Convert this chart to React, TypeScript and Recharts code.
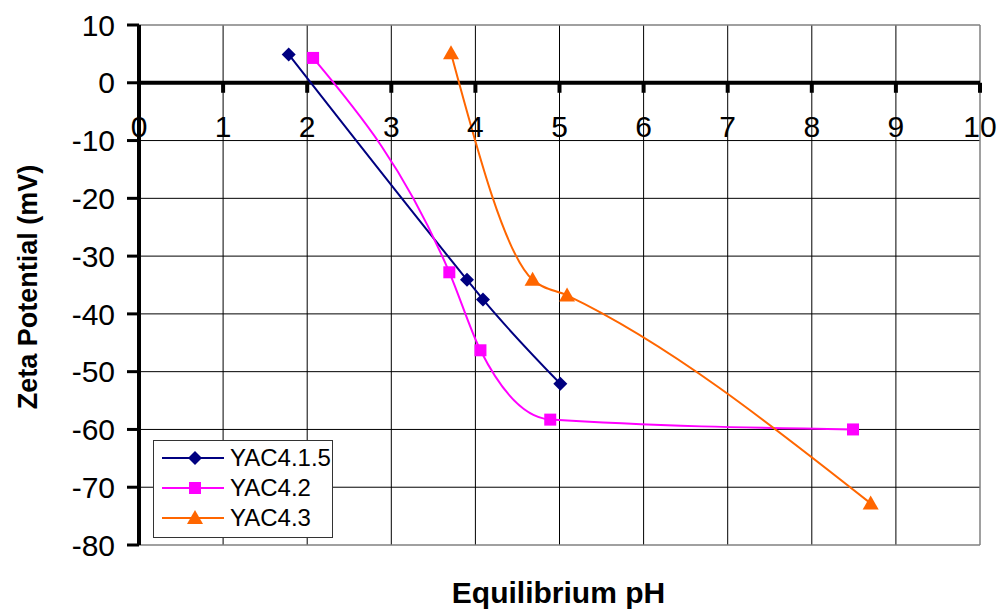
import React from 'react';
import { LineChart, Line, XAxis, YAxis, ReferenceLine, ReferenceDot } from 'recharts';

// Equilibrium pH (x) and zeta potential in mV (y) for each sample
const yac415X = [1.78, 3.9, 4.09, 5.01];
const yac415Y = [4.9, -34.1, -37.5, -52.1];
const yac42X = [2.07, 3.69, 4.06, 4.89, 8.49];
const yac42Y = [4.3, -32.8, -46.3, -58.3, -60.0];
const yac43X = [3.71, 4.68, 5.09, 8.7];
const yac43Y = [5.1, -34.1, -36.8, -72.8];

const xTicks = [0, 1, 2, 3, 4, 5, 6, 7, 8, 9, 10];
const yTicks = [-80, -70, -60, -50, -40, -30, -20, -10, 0, 10];

const toPoints = (xs: number[], ys: number[]) => xs.map((x, i) => ({ x, y: ys[i] }));

const series = [
  { name: 'YAC4.1.5', color: '#000080', shape: 'diamond', data: toPoints(yac415X, yac415Y) },
  { name: 'YAC4.2', color: '#FF00FF', shape: 'square', data: toPoints(yac42X, yac42Y) },
  { name: 'YAC4.3', color: '#FF6600', shape: 'triangle', data: toPoints(yac43X, yac43Y) },
];

const FONT = 'Arial, "Liberation Sans", sans-serif';

const Marker = ({ cx, cy, shape, color }: { cx: number; cy: number; shape: string; color: string }) => {
  if (cx == null || cy == null) return null;
  if (shape === 'diamond') {
    const r = 7;
    return <polygon points={`${cx},${cy - r} ${cx + r},${cy} ${cx},${cy + r} ${cx - r},${cy}`} fill={color} />;
  }
  if (shape === 'square') {
    const r = 6;
    return <rect x={cx - r} y={cy - r} width={r * 2} height={r * 2} fill={color} />;
  }
  const r = 8;
  return <polygon points={`${cx},${cy - r} ${cx + r},${cy + r * 0.75} ${cx - r},${cy + r * 0.75}`} fill={color} />;
};

// legend box sitting inside the lower-left corner of the plot
const LegendBox = () => (
  <div
    style={{
      position: 'absolute',
      left: 153,
      top: 440,
      border: '1.5px solid #333',
      background: '#fff',
      width: 180,
      height: 98,
      boxSizing: 'border-box',
      paddingTop: 1,
      fontFamily: FONT,
      overflow: 'hidden',
    }}
  >
    {series.map((s, i) => (
      <div key={s.name} style={{ display: 'flex', alignItems: 'center', height: i === 0 ? 31 : 30 }}>
        <svg width={76} height={20} style={{ flex: 'none' }}>
          <line x1={8} y1={10} x2={70} y2={10} stroke={s.color} strokeWidth={2} />
          <Marker cx={41} cy={10} shape={s.shape} color={s.color} />
        </svg>
        <span style={{ fontSize: 24, color: '#000', whiteSpace: 'nowrap' }}>{s.name}</span>
      </div>
    ))}
  </div>
);

export default function App() {
  return (
    <div style={{ position: 'absolute', left: 0, top: 0, width: 999, height: 610, background: '#fff' }}>
      <LineChart width={999} height={610} margin={{ top: 25, right: 19, bottom: 0, left: 0 }}>
        <XAxis
          type="number"
          dataKey="x"
          domain={[0, 10]}
          ticks={xTicks}
          height={65}
          axisLine={false}
          tickLine={false}
          tick={false}
          label={({ viewBox }: any) => (
            <text
              x={viewBox.x + viewBox.width / 2 - 1}
              y={viewBox.y + 58}
              textAnchor="middle"
              fontFamily={FONT}
              fontWeight="bold"
              fontSize={30}
              fill="#000"
            >
              Equilibrium pH
            </text>
          )}
        />
        <YAxis
          type="number"
          dataKey="y"
          domain={[-80, 10]}
          ticks={yTicks}
          width={139}
          interval={0}
          axisLine={{ stroke: '#000', strokeWidth: 4 }}
          tickLine={{ stroke: '#000', strokeWidth: 3 }}
          tickSize={12}
          tickMargin={12}
          tick={{ fill: '#000', fontSize: 30, fontFamily: FONT }}
          label={({ viewBox }: any) => (
            <text
              x={0}
              y={0}
              transform={`translate(${viewBox.x + 28}, ${viewBox.y + viewBox.height / 2 + 2}) rotate(-90)`}
              textAnchor="middle"
              dominantBaseline="central"
              fontFamily={FONT}
              fontWeight="bold"
              fontSize={27}
              fill="#000"
            >
              Zeta Potential (mV)
            </text>
          )}
        />
        {/* inner gridlines */}
        {yTicks.filter((v) => v > -80 && v < 10 && v !== 0).map((v) => (
          <ReferenceLine key={`gy${v}`} y={v} stroke="#000" strokeWidth={1} />
        ))}
        {xTicks.filter((v) => v > 0 && v < 10).map((v) => (
          <ReferenceLine key={`gx${v}`} x={v} stroke="#000" strokeWidth={1} />
        ))}
        {/* plot border */}
        <ReferenceLine y={10} stroke="#808080" strokeWidth={1.5} />
        <ReferenceLine y={-80} stroke="#808080" strokeWidth={1.5} />
        <ReferenceLine x={10} stroke="#808080" strokeWidth={1.5} />
        {/* x axis crossing at zero */}
        <ReferenceLine y={0} stroke="#000" strokeWidth={4} />
        {xTicks.map((v) => (
          <ReferenceDot
            key={v}
            x={v}
            y={0}
            r={0}
            shape={(p: any) => (
              <g>
                <line x1={p.cx} y1={p.cy} x2={p.cx} y2={p.cy + 10} stroke="#000" strokeWidth={4} />
                <text
                  x={p.cx}
                  y={p.cy + 54}
                  textAnchor="middle"
                  fontFamily={FONT}
                  fontSize={30}
                  fill="#000"
                >
                  {v}
                </text>
              </g>
            )}
          />
        ))}
        {series.map((s) => (
          <Line
            key={s.name}
            name={s.name}
            data={s.data}
            dataKey="y"
            type="monotone"
            stroke={s.color}
            strokeWidth={2}
            isAnimationActive={false}
            dot={(p: any) => <Marker key={`${s.name}-${p.index}`} cx={p.cx} cy={p.cy} shape={s.shape} color={s.color} />}
          />
        ))}
      </LineChart>
      <LegendBox />
    </div>
  );
}
